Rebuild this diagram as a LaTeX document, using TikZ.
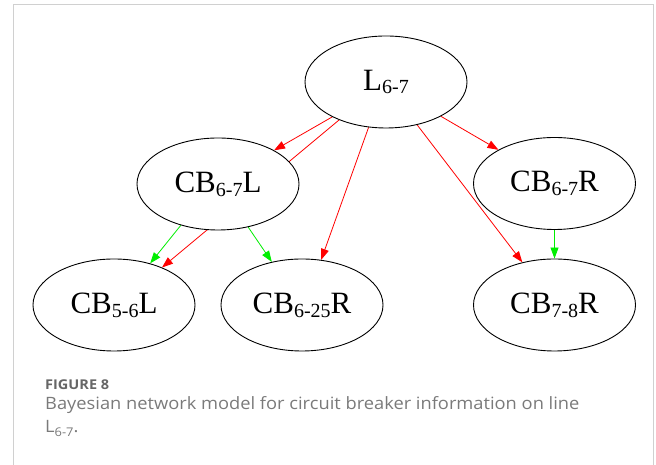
\documentclass[tikz,border=0pt]{standalone}
\usepackage{fontspec}
\setmainfont{Liberation Serif}
\newfontfamily\capfont[FakeStretch=1.075]{Open Sans}
\usetikzlibrary{shapes.geometric,arrows.meta}
\pgfdeclarelayer{bg}
\pgfsetlayers{bg,main}
\newcommand{\sbs}[1]{\raisebox{-0.12em}{\fontsize{20}{20}\selectfont #1}}
\newcommand{\capsub}[1]{\raisebox{-0.22em}{\fontsize{12}{12}\selectfont #1}}
\definecolor{framegray}{HTML}{D0D0D0}
\definecolor{capgray}{HTML}{7A7A7A}
\definecolor{capdark}{HTML}{666666}
\definecolor{edgered}{HTML}{FF0000}
\definecolor{edgegreen}{HTML}{00EE00}
\begin{document}
\begin{tikzpicture}[x=1pt,y=1pt,
  bn/.style={ellipse,draw=black,line width=0.9pt,fill=white,minimum width=162pt,minimum height=92pt,inner sep=0pt,font=\fontsize{31}{31}\selectfont},
  redarr/.style={draw=edgered,line width=0.8pt,-{Triangle[length=11pt,width=8pt]}},
  greenarr/.style={draw=edgegreen,line width=0.8pt,-{Triangle[length=11pt,width=8pt]}},
  frameline/.style={draw=framegray,line width=1pt},
  captext/.style={anchor=base west,inner sep=0pt,text=capgray,font=\capfont\fontsize{17}{20}\selectfont}
]
\useasboundingbox (0,0) rectangle (656,465);
\coordinate (ftl) at (13,460);
\coordinate (ftr) at (653,460);
\coordinate (fbl) at (13,0);
\coordinate (fbr) at (653,0);
\draw[frameline] (fbl) -- (ftl) -- (ftr) -- (fbr);

\node[bn] (L) at (386,383) {L\sbs{6-7}};
\node[bn] (CB67L) at (218,281) {CB\sbs{6-7}L};
\node[bn] (CB67R) at (554.5,281.5) {CB\sbs{6-7}R};
\node[bn] (CB56L) at (114,160) {CB\sbs{5-6}L};
\node[bn] (CB625R) at (302,160) {CB\sbs{6-25}R};
\node[bn] (CB78R) at (554.5,160) {CB\sbs{7-8}R};

\begin{pgfonlayer}{bg}
\draw[redarr] (L.213) -- (CB67L.31);
\draw[redarr] (L.219.7) -- (CB56L.38.4);
\draw[redarr] (L.249.7) -- (CB625R.67);
\draw[redarr] (L.306.7) -- (CB78R.127.7);
\draw[redarr] (L.328) -- (CB67R.149.6);
\draw[greenarr] (CB67L.228.7) -- (CB56L.49.4);
\draw[greenarr] (CB67L.305) -- (CB625R.125.5);
\draw[greenarr] (CB67R.270) -- (CB78R.90);
\end{pgfonlayer}

\node[anchor=base west,inner sep=0pt,text=capdark,font=\capfont\bfseries\fontsize{13.5}{15}\selectfont] (fig) at (45,75) {FIGURE 8};
\node[captext] (cap1) at (45,55) {Bayesian network model for circuit breaker information on line};
\node[captext] (cap2) at (45,32) {L\capsub{6-7}.};
\end{tikzpicture}
\end{document}
